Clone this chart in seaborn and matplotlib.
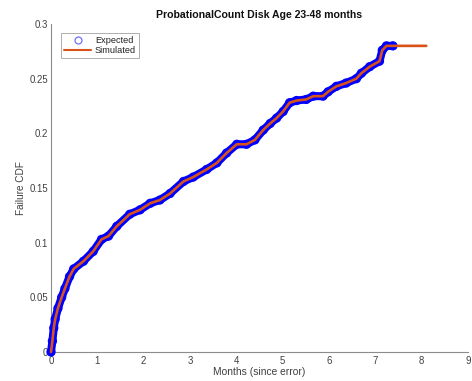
import matplotlib
matplotlib.use("Agg")
import matplotlib.pyplot as plt
import seaborn as sns
import pandas as pd
from matplotlib.lines import Line2D

# Expected CDF points (months, CDF)
exp_x = [0.00, 0.03, 0.06, 0.09, 0.15, 0.23, 0.30, 0.40, 0.49, 0.70, 0.91,
         1.09, 1.24, 1.42, 1.70, 1.92, 2.14, 2.35, 2.57, 2.86, 3.07, 3.36,
         3.58, 3.79, 4.01, 4.22, 4.40, 4.58, 4.73, 4.87, 5.01, 5.15, 5.30,
         5.51, 5.66, 5.87, 5.98, 6.16, 6.37, 6.59, 6.70, 6.88, 7.09, 7.15,
         7.24, 7.38]
exp_y = [0.000, 0.010, 0.022, 0.030, 0.040, 0.050, 0.058, 0.069, 0.076, 0.083, 0.092,
         0.103, 0.106, 0.115, 0.126, 0.130, 0.136, 0.139, 0.145, 0.156, 0.160, 0.167,
         0.173, 0.182, 0.190, 0.190, 0.194, 0.203, 0.209, 0.214, 0.220, 0.228, 0.230,
         0.231, 0.234, 0.234, 0.238, 0.243, 0.246, 0.250, 0.255, 0.261, 0.266, 0.276,
         0.280, 0.280]

# Simulated CDF (follows expected, then flat to the end of simulation)
sim_x = exp_x + [8.10]
sim_y = exp_y + [0.280]

title = "ProbationalCount Disk Age 23-48 months"
xlabel = "Months (since error)"
ylabel = "Failure CDF"
xticks = [0, 1, 2, 3, 4, 5, 6, 7, 8, 9]
yticks = [0, 0.05, 0.1, 0.15, 0.2, 0.25, 0.3]
ytick_labels = ["0", "0.05", "0.1", "0.15", "0.2", "0.25", "0.3"]

sns.set_style("white")
plt.rcParams["font.family"] = ["Liberation Sans", "DejaVu Sans"]

df_exp = pd.DataFrame({"x": exp_x, "y": exp_y})
df_sim = pd.DataFrame({"x": sim_x, "y": sim_y})

fig = plt.figure(figsize=(4.72, 3.81), dpi=100)
ax = fig.add_axes([51 / 472, 29 / 381, 417 / 472, 328 / 381])

BLUE = "#0000FF"
ORANGE = "#D95319"

# dense circle band of the expected series
sns.lineplot(data=df_exp, x="x", y="y", ax=ax, color=BLUE, linewidth=5.8,
             solid_capstyle="round", solid_joinstyle="round", sort=False,
             estimator=None, legend=False, clip_on=False)
sns.scatterplot(data=df_exp, x="x", y="y", ax=ax, marker="o", s=32,
                facecolors="none", edgecolor=BLUE, linewidth=1.0, legend=False,
                zorder=3, clip_on=False)
sns.lineplot(data=df_sim, x="x", y="y", ax=ax, color=ORANGE, linewidth=1.9,
             sort=False, estimator=None, legend=False, zorder=4, clip_on=False)

ax.set_xlim(0, 9)
ax.set_ylim(0, 0.3)
ax.set_xticks(xticks)
ax.set_xticklabels([str(t) for t in xticks])
ax.set_yticks(yticks)
ax.set_yticklabels(ytick_labels)

for s in ["top", "right"]:
    ax.spines[s].set_visible(False)
for s in ["left", "bottom"]:
    ax.spines[s].set_color("#8c8c8c")
    ax.spines[s].set_linewidth(0.8)
    ax.spines[s].set_zorder(0.5)

ax.tick_params(direction="in", length=3, width=0.6, colors="#8c8c8c",
               labelcolor="#404040", labelsize=6.9, pad=2)
ax.tick_params(axis="x", pad=3)

ax.set_xlabel(xlabel, fontsize=7.4, color="#404040")
ax.xaxis.set_label_coords(0.5, -0.045)
ax.set_ylabel(ylabel, fontsize=7.2, color="#404040", labelpad=2.5)
ax.set_title(title, fontsize=7.6, fontweight="bold", color="#111111", pad=4)

handles = [
    Line2D([], [], marker="o", linestyle="none", markerfacecolor="none",
           markeredgecolor="#7070ff", markersize=5, markeredgewidth=0.9),
    Line2D([], [], color=ORANGE, linewidth=1.5),
]
leg = ax.legend(handles, ["Expected", "Simulated"], loc="upper left",
                bbox_to_anchor=(10 / 417, 1 - 9 / 328), fontsize=6.6,
                frameon=True, fancybox=False, borderpad=0.3, handlelength=3.0,
                handletextpad=0.4, labelspacing=0.15, borderaxespad=0)
leg.get_frame().set_edgecolor("#999999")
leg.get_frame().set_linewidth(0.7)
for t in leg.get_texts():
    t.set_color("#222222")

fig.savefig("out.png", dpi=100)
